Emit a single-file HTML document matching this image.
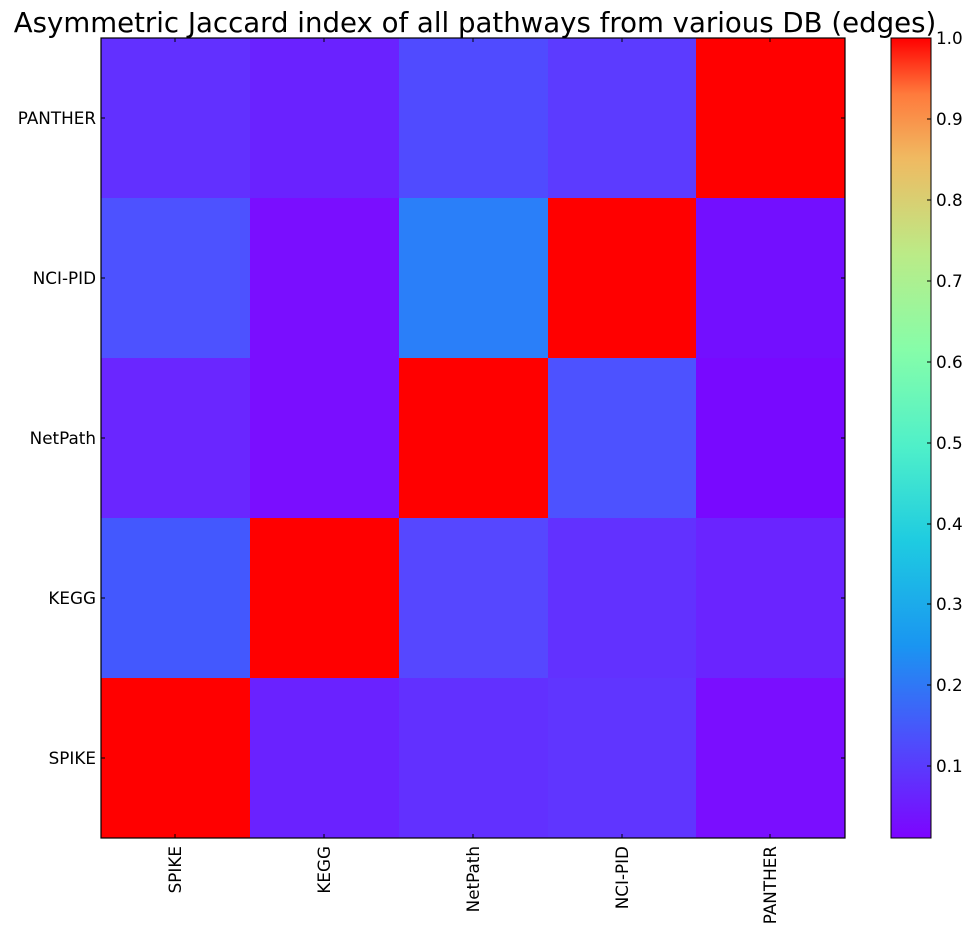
<!DOCTYPE html>
<html><head><style>
body{margin:0;background:#fff;width:972px;height:936px;overflow:hidden;font-family:"DejaVu Sans","Liberation Sans",sans-serif;}
</style></head><body>
<svg width="972" height="936" xmlns="http://www.w3.org/2000/svg" font-family="DejaVu Sans, Liberation Sans, sans-serif">
<defs>
<linearGradient id="rb" x1="0" y1="1" x2="0" y2="0">
<stop offset="0" stop-color="#7d04ff"/>
<stop offset="0.12" stop-color="#4e4dfc"/>
<stop offset="0.24" stop-color="#1a95f1"/>
<stop offset="0.37" stop-color="#1ecbe1"/>
<stop offset="0.49" stop-color="#4ff0c9"/>
<stop offset="0.61" stop-color="#86fda9"/>
<stop offset="0.73" stop-color="#bbeb87"/>
<stop offset="0.85" stop-color="#f0b961"/>
<stop offset="0.93" stop-color="#ff7a3c"/>
<stop offset="1" stop-color="#ff0000"/>
</linearGradient>
</defs>
<text x="475" y="32" font-size="27.6" text-anchor="middle">Asymmetric Jaccard index of all pathways from various DB (edges)</text>
<g shape-rendering="crispEdges">
<rect x="101" y="38" width="149" height="160" fill="#6230ff"/>
<rect x="250" y="38" width="149" height="160" fill="#6a22ff"/>
<rect x="399" y="38" width="149" height="160" fill="#504bff"/>
<rect x="548" y="38" width="148" height="160" fill="#5c3bff"/>
<rect x="696" y="38" width="149" height="160" fill="#ff0000"/>
<rect x="101" y="198" width="149" height="160" fill="#4d52ff"/>
<rect x="250" y="198" width="149" height="160" fill="#7a0eff"/>
<rect x="399" y="198" width="149" height="160" fill="#2a7ff9"/>
<rect x="548" y="198" width="148" height="160" fill="#ff0000"/>
<rect x="696" y="198" width="149" height="160" fill="#730fff"/>
<rect x="101" y="358" width="149" height="160" fill="#6a26ff"/>
<rect x="250" y="358" width="149" height="160" fill="#7a0eff"/>
<rect x="399" y="358" width="149" height="160" fill="#ff0000"/>
<rect x="548" y="358" width="148" height="160" fill="#4d52ff"/>
<rect x="696" y="358" width="149" height="160" fill="#7809ff"/>
<rect x="101" y="518" width="149" height="160" fill="#4358fe"/>
<rect x="250" y="518" width="149" height="160" fill="#ff0000"/>
<rect x="399" y="518" width="149" height="160" fill="#5647ff"/>
<rect x="548" y="518" width="148" height="160" fill="#6231ff"/>
<rect x="696" y="518" width="149" height="160" fill="#6a24ff"/>
<rect x="101" y="678" width="149" height="160" fill="#ff0000"/>
<rect x="250" y="678" width="149" height="160" fill="#6a22ff"/>
<rect x="399" y="678" width="149" height="160" fill="#6230ff"/>
<rect x="548" y="678" width="148" height="160" fill="#6035ff"/>
<rect x="696" y="678" width="149" height="160" fill="#7a0eff"/>
</g>
<rect x="101" y="38" width="744" height="800" fill="none" stroke="#000" stroke-width="1.2"/>
<g stroke="#000" stroke-width="1">
<line x1="175" y1="38" x2="175" y2="42"/><line x1="324" y1="38" x2="324" y2="42"/><line x1="473" y1="38" x2="473" y2="42"/><line x1="622" y1="38" x2="622" y2="42"/><line x1="770" y1="38" x2="770" y2="42"/>
<line x1="175" y1="838" x2="175" y2="834"/><line x1="324" y1="838" x2="324" y2="834"/><line x1="473" y1="838" x2="473" y2="834"/><line x1="622" y1="838" x2="622" y2="834"/><line x1="770" y1="838" x2="770" y2="834"/>
<line x1="101" y1="118" x2="105" y2="118"/><line x1="101" y1="278" x2="105" y2="278"/><line x1="101" y1="438" x2="105" y2="438"/><line x1="101" y1="598" x2="105" y2="598"/><line x1="101" y1="758" x2="105" y2="758"/>
<line x1="845" y1="118" x2="841" y2="118"/><line x1="845" y1="278" x2="841" y2="278"/><line x1="845" y1="438" x2="841" y2="438"/><line x1="845" y1="598" x2="841" y2="598"/><line x1="845" y1="758" x2="841" y2="758"/>
</g>
<g font-size="16.8" text-anchor="end">
<text x="96" y="124">PANTHER</text><text x="96" y="284">NCI-PID</text><text x="96" y="444">NetPath</text><text x="96" y="604">KEGG</text><text x="96" y="764">SPIKE</text>
</g>
<g font-size="16.8" text-anchor="end">
<text transform="translate(181,846) rotate(-90)">SPIKE</text>
<text transform="translate(330,846) rotate(-90)">KEGG</text>
<text transform="translate(479,846) rotate(-90)">NetPath</text>
<text transform="translate(628,846) rotate(-90)">NCI-PID</text>
<text transform="translate(776,846) rotate(-90)">PANTHER</text>
</g>
<rect x="891" y="38" width="40" height="800" fill="url(#rb)" stroke="#000" stroke-width="1"/>
<g stroke="#000" stroke-width="1">
<line x1="931" y1="119" x2="927" y2="119"/><line x1="931" y1="200" x2="927" y2="200"/><line x1="931" y1="281" x2="927" y2="281"/><line x1="931" y1="362" x2="927" y2="362"/><line x1="931" y1="443" x2="927" y2="443"/><line x1="931" y1="524" x2="927" y2="524"/><line x1="931" y1="604" x2="927" y2="604"/><line x1="931" y1="685" x2="927" y2="685"/><line x1="931" y1="766" x2="927" y2="766"/>
</g>
<g font-size="16.8">
<text x="936" y="44">1.0</text><text x="936" y="125">0.9</text><text x="936" y="206">0.8</text><text x="936" y="287">0.7</text><text x="936" y="368">0.6</text><text x="936" y="449">0.5</text><text x="936" y="530">0.4</text><text x="936" y="610">0.3</text><text x="936" y="691">0.2</text><text x="936" y="772">0.1</text>
</g>
</svg>
</body></html>
